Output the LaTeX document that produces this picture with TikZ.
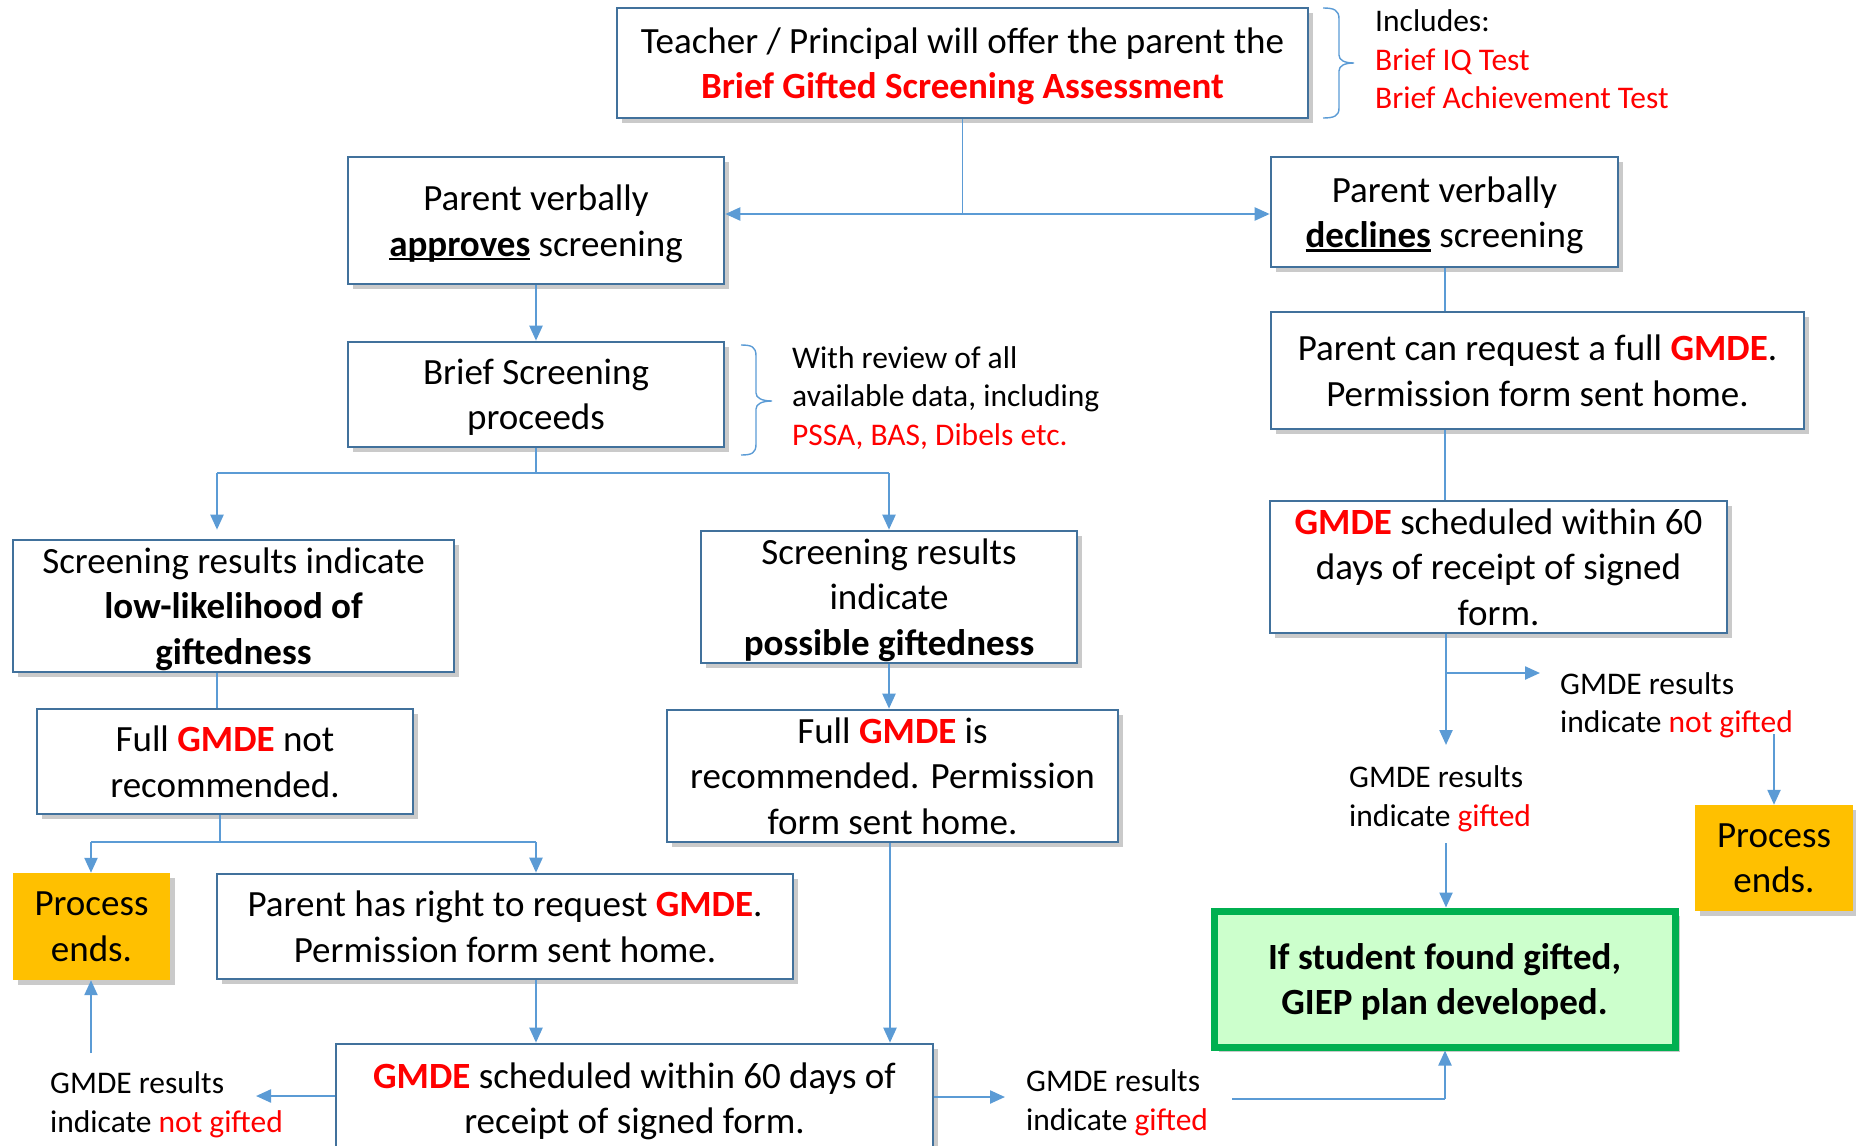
\documentclass[tikz,border=0pt]{standalone}
\usepackage{fontspec}
\setmainfont{Carlito}
\usetikzlibrary{arrows.meta,shadows}
\definecolor{boxblue}{HTML}{41719C}
\definecolor{lineblue}{HTML}{5B9BD5}
\definecolor{redt}{HTML}{FF0000}
\definecolor{endfill}{HTML}{FFC000}
\definecolor{greenfill}{HTML}{CCFFCC}
\definecolor{greenline}{HTML}{00B050}
\newcommand{\ulbf}[1]{{\setbox0\hbox{\bfseries #1}\rlap{\rule[-0.11em]{\wd0}{0.07em}}\box0}}
\newcommand{\rd}[1]{\textcolor{redt}{#1}}
\newcommand{\rdb}[1]{\textcolor{redt}{\bfseries #1}}
\begin{document}
\begin{tikzpicture}[x=1pt,y=-1pt,
  shad/.style={drop shadow={shadow xshift=5pt,shadow yshift=-5pt,opacity=0.35,fill=black!60}},
  boxstyle/.style={draw=boxblue, line width=2.6pt, fill=white, align=center, inner sep=0pt,
     text depth=0pt, font=\fontsize{37}{45.5}\selectfont, shad},
  endstyle/.style={fill=endfill, align=center, inner sep=0pt, text depth=0pt,
     font=\fontsize{37}{45.5}\selectfont, shad},
  greenstyle/.style={draw=greenline, line width=7pt, fill=greenfill, align=center, inner sep=0pt,
     text depth=0pt, font=\fontsize{37}{45.5}\selectfont\bfseries, shad},
  lbl/.style={align=left, anchor=west, inner sep=0pt, text depth=0pt, font=\fontsize{31.5}{38.5}\selectfont},
  conn/.style={draw=lineblue, line width=1.5pt},
  arr/.style={draw=lineblue, line width=2.3pt, -{Triangle[length=15pt,width=13pt]}},
  thick line/.style={draw=lineblue, line width=2.3pt},
  bracestyle/.style={draw=lineblue, line width=1.4pt}
]
\useasboundingbox (0,0) rectangle (1856,1146);

% boxes
\node[boxstyle, minimum width=691pt, minimum height=110pt] (top) at (962.5,63)
  {Teacher / Principal will offer the parent the\\ \rdb{Brief Gifted Screening Assessment}};
\node[boxstyle, minimum width=376pt, minimum height=127pt] (approves) at (536,220.5)
  {Parent verbally\\ \ulbf{approves} screening};
\node[boxstyle, minimum width=347pt, minimum height=110pt] (declines) at (1444.5,212)
  {Parent verbally\\ \ulbf{declines} screening};
\node[boxstyle, minimum width=533pt, minimum height=117pt] (request) at (1537.5,370.5)
  {Parent can request a full \rdb{GMDE}.\\ Permission form sent home.};
\node[boxstyle, minimum width=376pt, minimum height=105pt] (brief) at (536,394.5)
  {Brief Screening\\ proceeds};
\node[boxstyle, minimum width=441pt, minimum height=132pt] (low) at (233.5,606)
  {Screening results indicate\\ \textbf{low-likelihood of}\\ \textbf{giftedness}};
\node[boxstyle, minimum width=376pt, minimum height=132pt] (possible) at (889,597)
  {Screening results\\ indicate\\ \textbf{possible giftedness}};
\node[boxstyle, minimum width=376pt, minimum height=105pt] (notrec) at (225,761.5)
  {Full \rdb{GMDE} not\\ recommended.};
\node[boxstyle, minimum width=451pt, minimum height=132pt] (isrec) at (892.5,776)
  {Full \rdb{GMDE} is\\ recommended. Permission\\ form sent home.};
\node[endstyle, minimum width=157pt, minimum height=107pt] (endsl) at (91.5,926.5)
  {Process\\ ends.};
\node[boxstyle, minimum width=576pt, minimum height=105pt] (righttoreq) at (505,926.5)
  {Parent has right to request \rdb{GMDE}.\\ Permission form sent home.};
\node[boxstyle, minimum width=597pt, minimum height=108pt] (schedb) at (634.5,1098)
  {\rdb{GMDE} scheduled within 60 days of\\ receipt of signed form.};
\node[boxstyle, minimum width=457pt, minimum height=132pt] (schedr) at (1498.5,567)
  {\rdb{GMDE} scheduled within 60\\ days of receipt of signed\\ form.};
\node[endstyle, minimum width=158pt, minimum height=106pt] (endsr) at (1774,858)
  {Process\\ ends.};
\node[greenstyle, minimum width=461pt, minimum height=136pt] (green) at (1444.5,979)
  {If student found gifted,\\ GIEP plan developed.};

% labels
\node[lbl] (inc) at (1375,59.5) {Includes:\\ \rd{Brief IQ Test}\\ \rd{Brief Achievement Test}};
\node[lbl] (rev) at (792,396) {With review of all\\ available data, including\\ \rd{PSSA, BAS, Dibels etc.}};
\node[lbl] (res1) at (50,1102) {GMDE results\\ indicate \rd{not gifted}};
\node[lbl] (res2) at (1026,1100) {GMDE results\\ indicate \rd{gifted}};
\node[lbl] (res3) at (1560,702.5) {GMDE results\\ indicate \rd{not gifted}};
\node[lbl] (res4) at (1349,796) {GMDE results\\ indicate \rd{gifted}};

% braces
\draw[bracestyle] (1323,8) .. controls (1334,8) and (1339,10) .. (1339,19) -- (1339,55)
  .. controls (1339,60) and (1344,63) .. (1354,63)
  .. controls (1344,63) and (1339,66) .. (1339,71) -- (1339,108)
  .. controls (1339,116) and (1334,118) .. (1323,118);
\draw[bracestyle] (741,345) .. controls (752,345) and (756,347) .. (756,356) -- (756,393)
  .. controls (756,398) and (762,401) .. (772,401)
  .. controls (762,401) and (756,404) .. (756,409) -- (756,444)
  .. controls (756,453) and (752,455) .. (741,455);

% connectors: top split
\coordinate (s1) at (962.5,214);
\draw[conn] (top.south) -- (s1);
\draw[arr] (s1) -- (s1 -| approves.east);
\draw[arr] (s1) -- (s1 -| declines.west);
\draw[arr] (approves.south) -- (brief.north);

% brief split
\coordinate (s2) at (536,473);
\coordinate (s2l) at (217,473);
\coordinate (s2r) at (889,473);
\draw[conn] (brief.south) -- (s2);
\draw[conn] (s2l) -- (s2r);
\draw[arr, shorten >=9pt] (s2l) -- (s2l |- low.north);
\draw[arr] (s2r) -- (s2r |- possible.north);

% low side
\draw[conn] (s2l |- low.south) -- (s2l |- notrec.north);
\coordinate (s4) at (220,842);
\coordinate (s4l) at (91,842);
\coordinate (s4r) at (536,842);
\draw[conn] (s4 |- notrec.south) -- (s4);
\draw[conn] (s4l) -- (s4r);
\draw[arr] (s4l) -- (s4l |- endsl.north);
\draw[arr] (s4r) -- (s4r |- righttoreq.north);
\draw[arr] (s4r |- righttoreq.south) -- (s4r |- schedb.north);

% possible side
\draw[arr] (possible.south) -- (possible.south |- isrec.north);
\coordinate (c890) at (890,842);
\draw[arr] (c890 |- isrec.south) -- (c890 |- schedb.north);

% bottom results
\coordinate (l1tip) at (256,1096);
\draw[arr] (l1tip -| schedb.west) -- (l1tip);
\coordinate (up1) at (91,1053);
\draw[arr] (up1) -- (up1 |- endsl.south);
\coordinate (l2tip) at (1005,1097);
\draw[arr] (l2tip -| schedb.east) -- (l2tip);
\coordinate (g1) at (1232,1099);
\coordinate (g2) at (1445,1099);
\draw[conn] (g1) -- (g2);
\draw[arr] (g2) -- (g2 |- green.south);

% right column
\coordinate (d) at (1445,0);
\draw[thick line] (d |- declines.south) -- (d |- request.north);
\draw[thick line] (d |- request.south) -- (d |- schedr.north);
\coordinate (r0) at (1446,745);
\draw[arr] (r0 |- schedr.south) -- (r0);
\coordinate (r1tip) at (1540,673);
\draw[arr] (r1tip -| r0) -- (r1tip);
\coordinate (r2) at (1774,734);
\draw[arr] (r2) -- (r2 |- endsr.north);
\coordinate (r3) at (1446,843);
\draw[arr] (r3) -- (r3 |- green.north);
\end{tikzpicture}
\end{document}
